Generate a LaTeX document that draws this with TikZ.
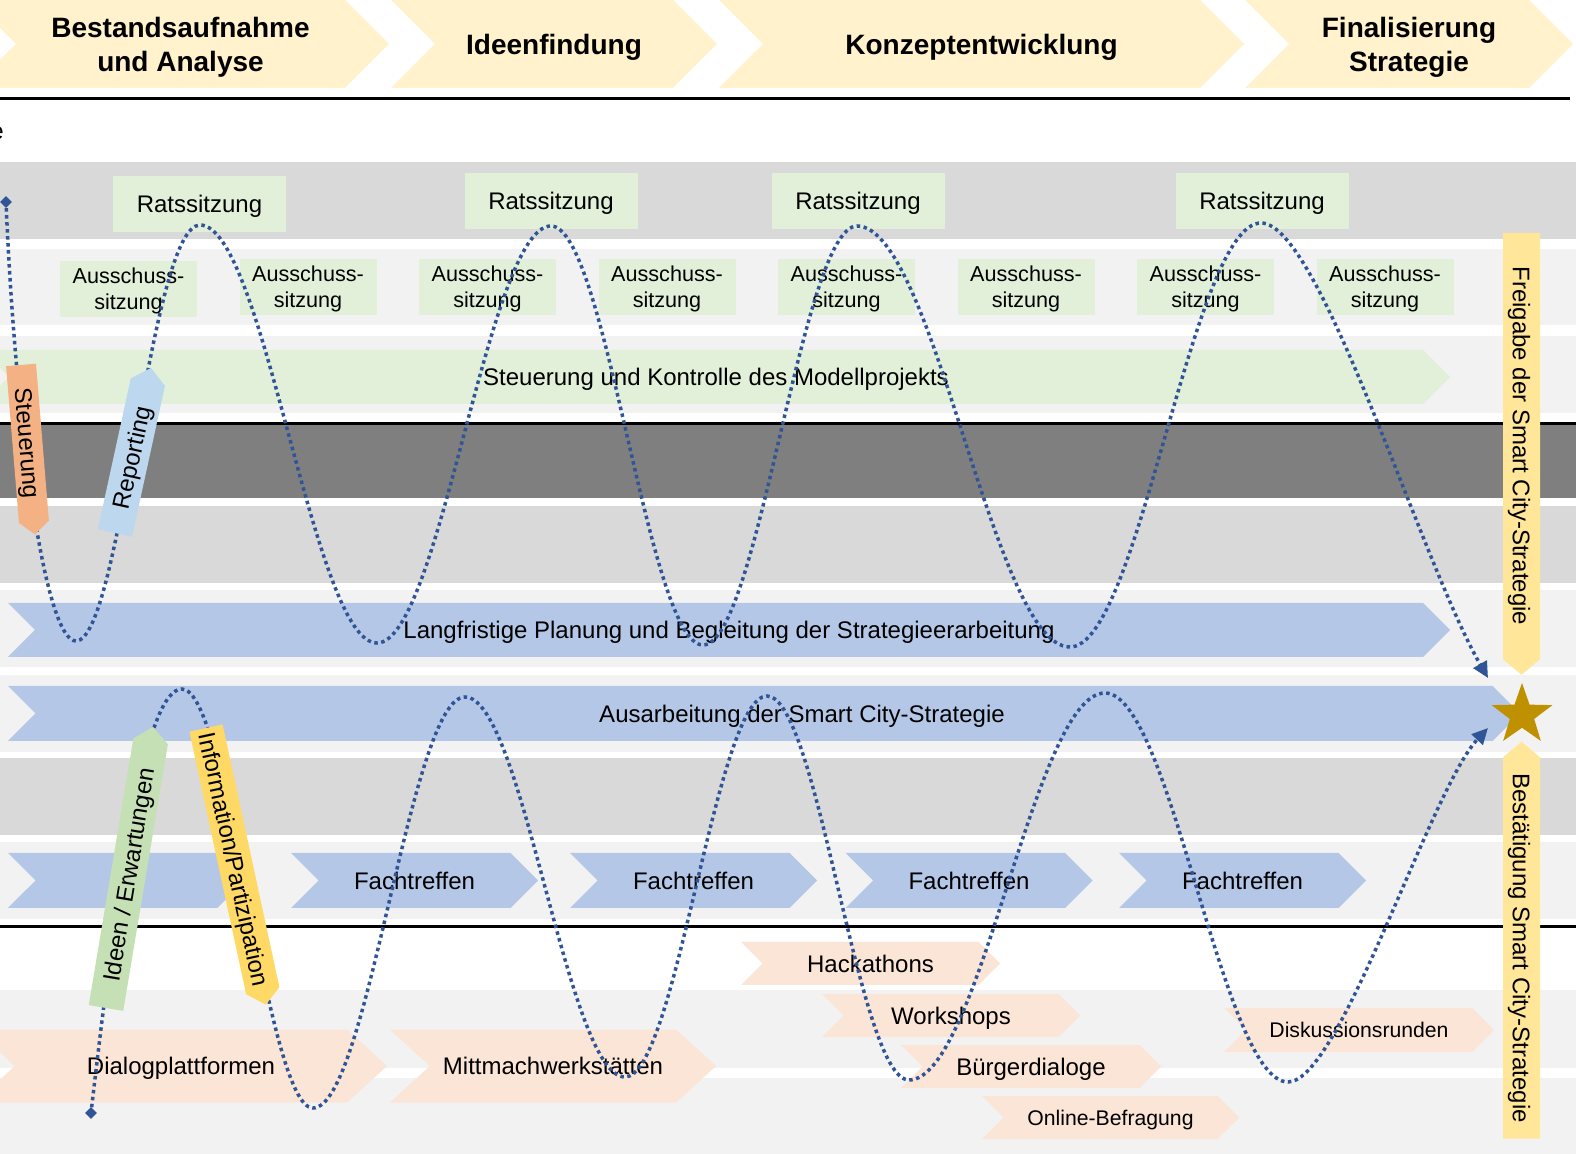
\documentclass[tikz,border=0pt]{standalone}
\usepackage{fontspec}
\setmainfont{Liberation Sans}
\usetikzlibrary{shapes.symbols,shapes.geometric,arrows.meta}

\definecolor{headyellow}{HTML}{FFF2CC}
\definecolor{bandgray}{HTML}{D9D9D9}
\definecolor{bandlight}{HTML}{F2F2F2}
\definecolor{banddark}{HTML}{7F7F7F}
\definecolor{sitzgreen}{HTML}{E2F0D9}
\definecolor{chevblue}{HTML}{B4C7E7}
\definecolor{chevpeach}{HTML}{FBE5D6}
\definecolor{baryellow}{HTML}{FFE699}
\definecolor{stargold}{HTML}{BF9000}
\definecolor{steuerorange}{HTML}{F4B183}
\definecolor{reportblue}{HTML}{BDD7EE}
\definecolor{ideengreen}{HTML}{C5E0B4}
\definecolor{infoyellow}{HTML}{FFD966}
\definecolor{wavecol}{HTML}{2F5597}

\tikzset{
  chev/.style={signal, signal from=west, signal to=east, signal pointer angle=90,
    inner sep=0pt, align=center, text depth=0pt},
  headchev/.style={chev, fill=headyellow, minimum height=44pt,
    font=\fontsize{14}{17}\selectfont\bfseries},
  bluechev/.style={chev, fill=chevblue, minimum height=27.5pt, font=\fontsize{12}{14}\selectfont},
  greenchev/.style={chev, fill=sitzgreen, minimum height=27pt, font=\fontsize{12}{14}\selectfont},
  peachchev/.style={chev, fill=chevpeach, minimum height=21.5pt, font=\fontsize{12}{14}\selectfont},
  ratsbox/.style={fill=sitzgreen, minimum width=86.5pt, minimum height=28pt, inner sep=0pt,
    text depth=0pt, font=\fontsize{12}{14}\selectfont},
  ausbox/.style={fill=sitzgreen, minimum width=68.5pt, minimum height=28pt, inner sep=0pt,
    align=center, text depth=0pt, font=\fontsize{10.8}{13}\selectfont},
  tiltarrow/.style={signal, signal from=nowhere, signal pointer angle=100, inner sep=0pt,
    text depth=0pt, font=\fontsize{12}{14}\selectfont},
  freibar/.style={tiltarrow, fill=baryellow, minimum height=18.5pt},
  wave/.style={wavecol, line width=1.75pt, dash pattern=on 1.75pt off 1.75pt,
    -{Triangle[length=8pt,width=7.5pt]}},
  wavestart/.style={diamond, fill=wavecol, inner sep=0pt, minimum size=6pt},
}

\begin{document}
\begin{tikzpicture}[x=0.5pt,y=-0.5pt]
\useasboundingbox (0,0) rectangle (1576,1154);

% Hintergrund
\fill[bandgray] (0,162) rectangle (1576,239);
\fill[bandlight] (0,249) rectangle (1576,325);
\fill[bandlight] (0,336) rectangle (1576,413);
\fill[banddark] (0,425) rectangle (1576,498);
\fill[bandgray] (0,506) rectangle (1576,583);
\fill[bandlight] (0,590) rectangle (1576,667);
\fill[bandlight] (0,675) rectangle (1576,752);
\fill[bandgray] (0,758) rectangle (1576,835);
\fill[bandlight] (0,842) rectangle (1576,919);
\fill[bandlight] (0,990) rectangle (1576,1068);
\fill[bandlight] (0,1078) rectangle (1576,1154);
\draw[line width=1.5pt] (0,99) -- (1570,99);
\draw[line width=1.5pt] (0,424) -- (1576,424);
\draw[line width=1.5pt] (0,927) -- (1576,927);

% Phasen
\node[headchev, minimum width=208.5pt] (phBestand) at (180.5,44) {Bestandsaufnahme\\und Analyse};
\node[headchev, minimum width=163pt] (phIdeen) at (554,44) {Ideenfindung};
\node[headchev, minimum width=262.5pt] (phKonzept) at (981.5,44) {Konzeptentwicklung};
\node[headchev, minimum width=164pt] (phFinal) at (1409,44) {Finalisierung\\Strategie};
\node[anchor=east, inner sep=0pt, font=\fontsize{12}{14}\selectfont] (cutlabel) at (4,133) {e};

% Politik
\node[ratsbox] (rs1) at (199.5,204) {Ratssitzung};
\node[ratsbox] (rs2) at (551,201) {Ratssitzung};
\node[ratsbox] (rs3) at (858,201) {Ratssitzung};
\node[ratsbox] (rs4) at (1262,201) {Ratssitzung};
\node[ausbox] (as1) at (128.5,289) {Ausschuss-\\sitzung};
\node[ausbox] (as2) at (308,287) {Ausschuss-\\sitzung};
\node[ausbox] (as3) at (487.5,287) {Ausschuss-\\sitzung};
\node[ausbox] (as4) at (667,287) {Ausschuss-\\sitzung};
\node[ausbox] (as5) at (846.5,287) {Ausschuss-\\sitzung};
\node[ausbox] (as6) at (1026,287) {Ausschuss-\\sitzung};
\node[ausbox] (as7) at (1205.5,287) {Ausschuss-\\sitzung};
\node[ausbox] (as8) at (1385,287) {Ausschuss-\\sitzung};
\node[greenchev, minimum width=734pt] (steuerK) at (716,377) {Steuerung und Kontrolle des Modellprojekts};

% Verwaltung
\node[bluechev, minimum width=721pt, minimum height=27pt] (lang) at (729,630) {Langfristige Planung und Begleitung der Strategieerarbeitung};
\node[bluechev, minimum width=756pt] (ausarb) at (764,713.5) {};
\node[font=\fontsize{12}{14}\selectfont, text depth=0pt] (ausarbtext) at (802,713.5) {Ausarbeitung der Smart City-Strategie};
\node[bluechev, minimum width=118.5pt] (ft0) at (126.5,880.5) {};
\node[bluechev, minimum width=123.5pt] (ft1) at (414.5,880.5) {Fachtreffen};
\node[bluechev, minimum width=123.5pt] (ft2) at (693.5,880.5) {Fachtreffen};
\node[bluechev, minimum width=123.5pt] (ft3) at (969,880.5) {Fachtreffen};
\node[bluechev, minimum width=123.5pt] (ft4) at (1242.5,880.5) {Fachtreffen};

% Buerger
\node[peachchev, minimum width=129.5pt] (hack) at (870.5,963.5) {Hackathons};
\node[peachchev, minimum width=129pt] (work) at (951,1015.5) {Workshops};
\node[peachchev, minimum width=130pt] (buerger) at (1031,1066.5) {Bürgerdialoge};
\node[peachchev, minimum width=128.5pt, font=\fontsize{10.6}{13}\selectfont] (online) at (1110.5,1117.5) {Online-Befragung};
\node[peachchev, minimum width=135pt, minimum height=22pt, font=\fontsize{10.6}{13}\selectfont] (disk) at (1359,1030) {Diskussionsrunden};
\node[peachchev, minimum width=206pt, minimum height=36.5pt, signal pointer angle=85] (dialog) at (181,1066) {Dialogplattformen};
\node[peachchev, minimum width=163pt, minimum height=36.5pt, signal pointer angle=85] (mitmach) at (553,1066) {Mittmachwerkstätten};

% Meilensteine
\node[freibar, signal to=east, rotate=-90, minimum width=221pt] (frei) at (1521.5,446) {Freigabe der Smart City-Strategie};
\node[freibar, signal to=west, rotate=-90, minimum width=198.5pt] (bestaet) at (1521.5,948) {Bestätigung Smart City-Strategie};
\node[star, star points=5, star point ratio=2.5, fill=stargold, inner sep=0pt, minimum size=32pt] (stern) at (1522,715) {};

% Wellen
\node[wavestart] (ws1) at (6,202) {};
\node[wavestart] (ws2) at (91,1113) {};
\coordinate (we1) at (1488,678);
\coordinate (we2) at (1488,728);
\draw[wave] (ws1) .. controls (16,430) and (45,641) .. (76,641)
  .. controls (121,641) and (150,225) .. (200,225)
  .. controls (264,225) and (313,643) .. (377,643)
  .. controls (440,643) and (488,226) .. (551,226)
  .. controls (606,226) and (648,645) .. (703,645)
  .. controls (758,645) and (802,226) .. (857,226)
  .. controls (934,226) and (993,647) .. (1070,647)
  .. controls (1139,647) and (1192,223) .. (1261,223)
  .. controls (1320,223) and (1420,560) .. (we1);
\draw[wave] (ws2) .. controls (118,880) and (145,689) .. (182,689)
  .. controls (229,689) and (266,1108) .. (313,1108)
  .. controls (368,1108) and (410,697) .. (465,697)
  .. controls (523,697) and (567,1077) .. (625,1077)
  .. controls (676,1077) and (716,696) .. (767,696)
  .. controls (818,696) and (858,1080) .. (909,1080)
  .. controls (980,1080) and (1034,693) .. (1105,693)
  .. controls (1171,693) and (1222,1082) .. (1288,1082)
  .. controls (1340,1082) and (1430,790) .. (we2);

% Pfeile
\node[tiltarrow, signal to=east, fill=steuerorange, rotate=-85.3, minimum width=85pt, minimum height=15pt] (steuer) at (27.5,443.4) {Steuerung};
\node[tiltarrow, signal to=east, fill=reportblue, rotate=77.7, minimum width=84.5pt, minimum height=17.5pt] (report) at (131.4,457.6) {Reporting};
\node[tiltarrow, signal to=east, fill=ideengreen, rotate=80.5, minimum width=142.5pt, minimum height=17.5pt] (ideen) at (128.3,874.7) {Ideen / Erwartungen};
\node[tiltarrow, signal to=east, fill=infoyellow, rotate=-77.8, minimum width=141.5pt, minimum height=17pt] (info) at (234.4,859.4) {Information/Partizipation};
\end{tikzpicture}
\end{document}
